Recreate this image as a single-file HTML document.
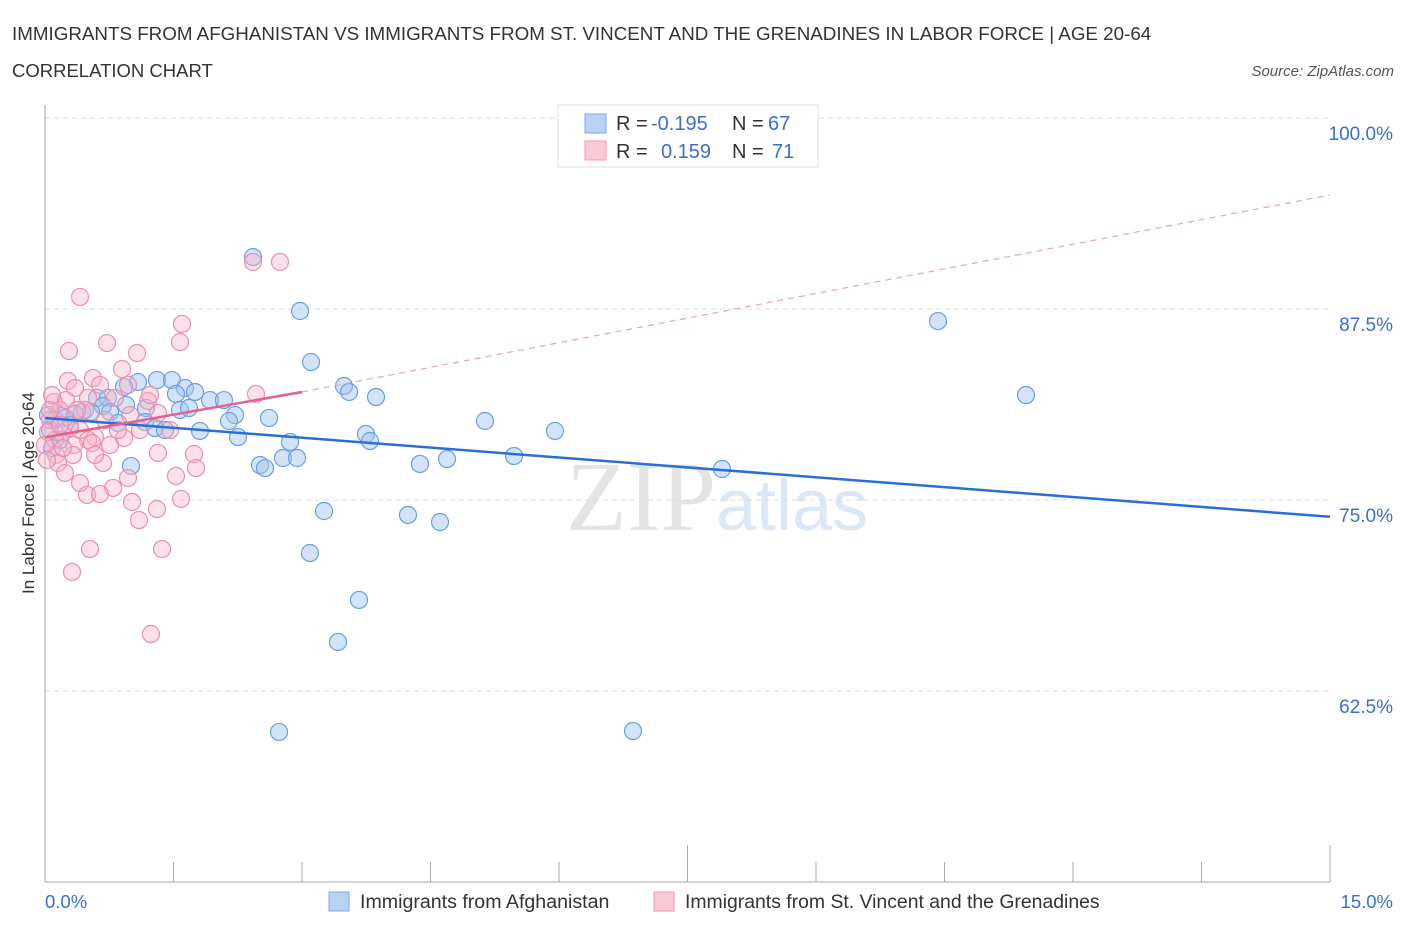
<!DOCTYPE html>
<html><head><meta charset="utf-8"><style>
body{margin:0;background:#fff;font-family:"Liberation Sans",sans-serif}
svg text{font-family:"Liberation Sans",sans-serif}
</style></head><body>
<svg id="chart" width="1406" height="930" viewBox="0 0 1406 930">
<text x="12" y="40" font-size="18.8" fill="#333">IMMIGRANTS FROM AFGHANISTAN VS IMMIGRANTS FROM ST. VINCENT AND THE GRENADINES IN LABOR FORCE | AGE 20-64</text>
<text x="12" y="77" font-size="18.5" fill="#333">CORRELATION CHART</text>
<text x="1394" y="76" font-size="15" fill="#555" font-style="italic" text-anchor="end">Source: ZipAtlas.com</text>
<text x="716" y="530" font-size="100" fill="#e4e4e4" text-anchor="end" style="font-family:'Liberation Serif',serif">ZIP</text>
<text x="716" y="530" font-size="72" fill="#dce8f6">atlas</text>
<g id="grid"></g>
<g id="axes"></g>
<g id="pts"></g>
<g id="trend"></g>
<text transform="translate(34,493) rotate(-90)" font-size="17" fill="#333" text-anchor="middle">In Labor Force | Age 20-64</text>
<g>
<rect x="558" y="105" width="260" height="62" fill="#fff" stroke="#ddd"/>
<rect x="585" y="114" width="21" height="19" fill="#b8d2f5" stroke="#7aa8e8"/>
<text x="616" y="130" font-size="20" fill="#333">R = </text><text x="651" y="130" font-size="20" fill="#3a6fd0">-0.195</text>
<text x="732" y="130" font-size="20" fill="#333">N = </text><text x="768" y="130" font-size="20" fill="#3a6fd0">67</text>
<rect x="585" y="141" width="21" height="19" fill="#fbc8d6" stroke="#ef9ab4"/>
<text x="616" y="158" font-size="20" fill="#333">R = </text><text x="661" y="158" font-size="20" fill="#3a6fd0">0.159</text>
<text x="732" y="158" font-size="20" fill="#333">N = </text><text x="772" y="158" font-size="20" fill="#3a6fd0">71</text>
</g>
<g>
<rect x="329" y="892" width="20" height="19" fill="#b8d2f5" stroke="#7aa8e8"/>
<text x="360" y="908" font-size="19.6" fill="#333">Immigrants from Afghanistan</text>
<rect x="654" y="892" width="20" height="19" fill="#fbc8d6" stroke="#ef9ab4"/>
<text x="685" y="908" font-size="19.4" fill="#333">Immigrants from St. Vincent and the Grenadines</text>
</g>
</svg>
<script>
const yTicks=[100,87.5,75,62.5];
const yTickLabels=["100.0%","87.5%","75.0%","62.5%"];
const xTickLabels=["0.0%","15.0%"];
const bluePx=[[253,257],[300,311],[311,362],[344,386],[349,392],[376,397],[485,421],[555,431],[366,434],[370,441],[290,442],[283,458],[297,458],[260,465],[265,468],[420,464],[447,459],[514,456],[722,469],[131,466],[324,511],[408,515],[440,522],[310,553],[359,600],[338,642],[279,732],[633,731],[938,321],[1026,395],[157,380],[172,380],[138,382],[124,387],[185,388],[195,392],[176,394],[210,400],[224,400],[97,398],[108,398],[103,406],[126,405],[146,408],[180,410],[189,408],[235,415],[269,418],[229,421],[82,412],[91,412],[110,412],[60,410],[75,414],[145,422],[118,423],[155,428],[165,430],[200,431],[238,437],[70,425],[55,420],[50,430],[60,440],[52,448],[65,418],[48,415]];
const pinkPx=[[80,297],[253,262],[280,262],[182,324],[180,342],[107,343],[69,351],[137,353],[122,369],[68,381],[93,378],[100,385],[75,388],[128,385],[256,394],[148,401],[54,402],[88,398],[60,410],[115,398],[158,413],[130,415],[50,420],[70,428],[80,430],[95,437],[124,438],[88,440],[62,433],[55,440],[48,432],[170,430],[74,445],[92,443],[56,455],[73,455],[103,463],[58,463],[194,454],[158,453],[196,468],[176,476],[128,478],[65,473],[80,483],[113,488],[87,495],[100,494],[181,499],[132,502],[157,509],[139,520],[90,549],[162,549],[72,572],[151,634],[45,445],[50,410],[60,425],[66,400],[85,410],[105,420],[140,430],[52,395],[150,395],[95,455],[110,445],[77,410],[63,448],[118,430],[47,460]];
const blueX=bluePx.map(p=>+((p[0]-45)/85.667).toFixed(3));
const blueY=bluePx.map(p=>+(100-(p[1]-118)/15.28).toFixed(2));
const pinkX=pinkPx.map(p=>+((p[0]-45)/85.667).toFixed(3));
const pinkY=pinkPx.map(p=>+(100-(p[1]-118)/15.28).toFixed(2));
const blueTrend=[[0,80.37],[15,73.9]];
const pinkTrend=[[0,79.1],[3,82.07],[15,94.96]];

const NS="http://www.w3.org/2000/svg";
const X=v=>45+v*85.667, Y=v=>118+(100-v)*15.28;
function mk(tag,attrs,parent){const e=document.createElementNS(NS,tag);for(const k in attrs)e.setAttribute(k,attrs[k]);document.getElementById(parent).appendChild(e);return e;}
yTicks.forEach((t,i)=>{
 const g=mk('line',{x1:45,x2:1330,y1:Y(t),y2:Y(t),stroke:'#ddd','stroke-dasharray':'5,4'},'grid');
 
 
 const l=mk('text',{x:1393,y:Y(t)+22,'font-size':19,fill:'#3a6fd0','text-anchor':'end'},'axes');l.textContent=yTickLabels[i];
 
 
});
let a=mk('line',{x1:45,x2:45,y1:105,y2:882,stroke:'#aaa'},'axes');


a=mk('line',{x1:45,x2:1330,y1:882,y2:882,stroke:'#aaa'},'axes');


for(let i=0;i<=10;i++){const x=45+i*128.5;const t=mk('line',{x1:x,x2:x,y1:i%5==0?845:862,y2:882,stroke:'#aaa'},'axes');
 
 }
[[45,'start'],[1393,'end']].forEach((p,i)=>{const t=mk('text',{x:p[0],y:908,'font-size':18.5,fill:'#3a6fd0','text-anchor':p[1]},'axes');t.textContent=xTickLabels[i];
 
 });
blueX.forEach((x,i)=>{const c=mk('circle',{cx:X(x),cy:Y(blueY[i]),r:8.5,fill:'rgba(160,196,240,0.45)',stroke:'#6a9ee6','stroke-width':1.2},'pts');
 
 });
pinkX.forEach((x,i)=>{const c=mk('circle',{cx:X(x),cy:Y(pinkY[i]),r:8.5,fill:'rgba(248,180,200,0.4)',stroke:'#ec8fae','stroke-width':1.2},'pts');
 
 });
let t=mk('line',{x1:X(blueTrend[0][0]),y1:Y(blueTrend[0][1]),x2:X(blueTrend[1][0]),y2:Y(blueTrend[1][1]),stroke:'#2a6fd6','stroke-width':2.5},'trend');


t=mk('line',{x1:X(pinkTrend[0][0]),y1:Y(pinkTrend[0][1]),x2:X(pinkTrend[1][0]),y2:Y(pinkTrend[1][1]),stroke:'#e4608e','stroke-width':2.5},'trend');


t=mk('line',{x1:X(pinkTrend[1][0]),y1:Y(pinkTrend[1][1]),x2:X(pinkTrend[2][0]),y2:Y(pinkTrend[2][1]),stroke:'#eea0b8','stroke-width':1.2,'stroke-dasharray':'6,5'},'trend');


</script>
</body></html>
